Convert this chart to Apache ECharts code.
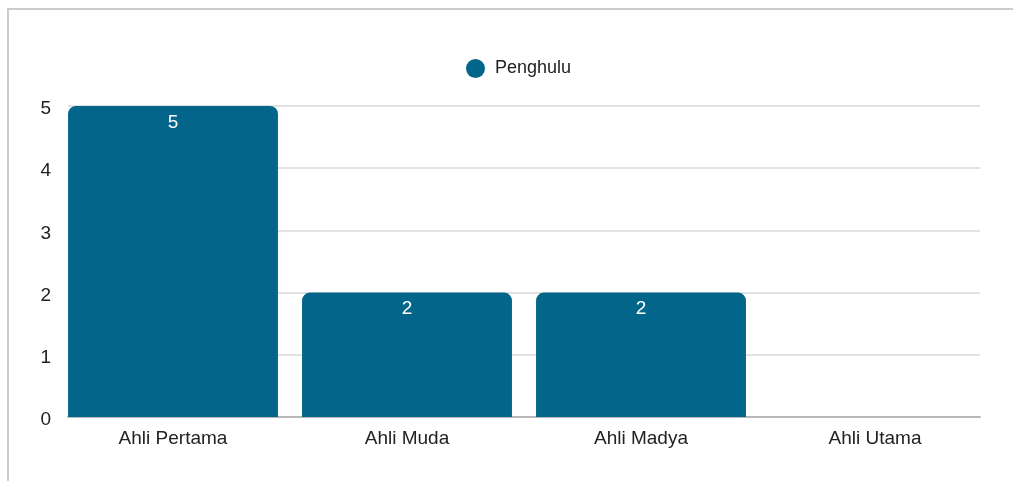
<!DOCTYPE html>
<html>
<head>
<meta charset="utf-8">
<script src="https://cdn.jsdelivr.net/npm/echarts@6/dist/echarts.min.js"></script>
<style>
html,body{margin:0;padding:0;background:#fff;}
#frame{position:absolute;left:7px;top:8px;width:1006px;height:473px;border-top:2px solid #cccccc;border-left:2px solid #cccccc;box-sizing:border-box;}
#chart{position:absolute;left:0;top:0;width:1013px;height:481px;}
</style>
</head>
<body>
<div id="frame"></div>
<div id="chart"></div>
<script>
var categories = ['Ahli Pertama', 'Ahli Muda', 'Ahli Madya', 'Ahli Utama'];
var penghulu = [5, 2, 2, 0];
var seriesName = 'Penghulu';

var FONT = '"Liberation Sans", Arial, sans-serif';
var chart = echarts.init(document.getElementById('chart'), null, {renderer: 'canvas'});
chart.setOption({
  animation: false,
  backgroundColor: 'transparent',
  legend: {
    data: [{name: seriesName, icon: 'circle'}],
    top: 54,
    left: 461,
    itemWidth: 19,
    itemHeight: 19,
    itemGap: 8,
    textStyle: {fontFamily: FONT, fontSize: 18, color: '#222', padding: [0, 0, 0, 5]}
  },
  grid: [
    {left: 56, right: 21, top: 106, bottom: 64, containLabel: false},
    {left: 68, right: 33, top: 106, bottom: 64, containLabel: false}
  ],
  xAxis: [
    {
      type: 'category', gridIndex: 0, data: categories,
      axisLine: {show: false}, axisTick: {show: false},
      axisLabel: {fontFamily: FONT, fontSize: 19, color: '#222', margin: 12}
    },
    {
      type: 'category', gridIndex: 1, data: categories,
      axisLine: {show: true, lineStyle: {color: '#b7b7b7', width: 2}},
      axisTick: {show: false}, axisLabel: {show: false}
    }
  ],
  yAxis: [
    {
      type: 'value', gridIndex: 0, min: 0, max: 5, interval: 1,
      axisLine: {show: false}, axisTick: {show: false},
      axisLabel: {show: false}, splitLine: {show: false}
    },
    {
      type: 'value', gridIndex: 1, min: 0, max: 5, interval: 1,
      axisLine: {show: false}, axisTick: {show: false},
      axisLabel: {
        margin: 17,
        formatter: '{v|{value}}',
        rich: {v: {fontFamily: FONT, fontSize: 19, color: '#222', padding: [6, 0, 0, 0]}}
      },
      splitLine: {lineStyle: {color: '#d9d9d9', width: 1.5}}
    }
  ],
  series: [{
    name: seriesName,
    type: 'bar',
    xAxisIndex: 0, yAxisIndex: 0,
    data: penghulu,
    barCategoryGap: '10.3%',
    z: 5,
    itemStyle: {color: '#03658a', borderRadius: [8, 8, 0, 0]},
    label: {
      show: true, position: 'insideTop', distance: 7,
      fontFamily: FONT, fontSize: 19, color: '#ffffff',
      formatter: function (p) { return p.value > 0 ? p.value : ''; }
    }
  }]
});
</script>
</body>
</html>
